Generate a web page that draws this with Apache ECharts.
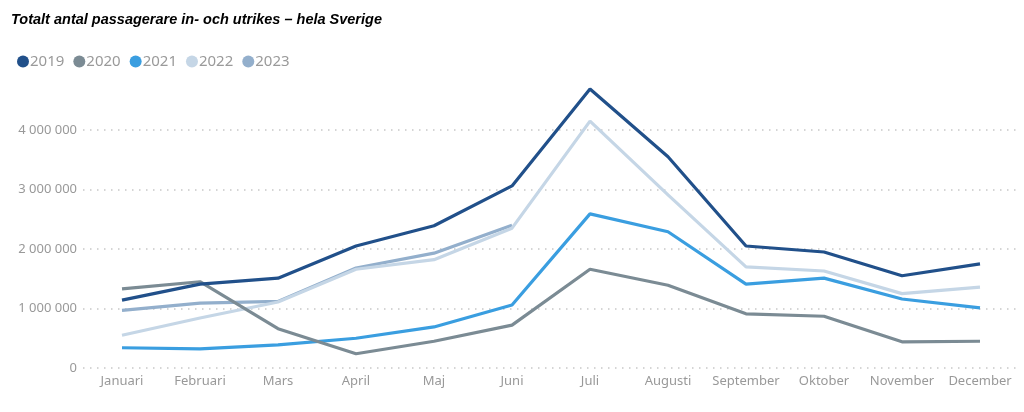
<!DOCTYPE html>
<html>
<head>
<meta charset="utf-8">
<script src="https://cdn.jsdelivr.net/npm/echarts@6/dist/echarts.min.js"></script>
<style>
html,body{margin:0;padding:0;background:#fff;}
#c{width:1024px;height:412px;}
</style>
</head>
<body>
<div id="c"></div>
<script>
const titleText = 'Totalt antal passagerare in- och utrikes – hela Sverige';
const months = ['Januari','Februari','Mars','April','Maj','Juni','Juli','Augusti','September','Oktober','November','December'];
const years = ['2019','2020','2021','2022','2023'];
const v2019 = [1140000,1410000,1510000,2050000,2390000,3060000,4690000,3550000,2050000,1950000,1550000,1750000];
const v2020 = [1330000,1450000,660000,240000,450000,720000,1660000,1390000,910000,870000,440000,450000];
const v2021 = [340000,320000,390000,500000,690000,1060000,2590000,2290000,1410000,1510000,1160000,1010000];
const v2022 = [550000,840000,1110000,1660000,1820000,2350000,4150000,2910000,1700000,1630000,1250000,1360000];
const v2023 = [970000,1090000,1120000,1680000,1930000,2400000,null,null,null,null,null,null];
const colors = ['#21508a','#7b8b94','#3a9ee0','#c5d6e6','#93afcc'];
const seriesData = [v2019,v2020,v2021,v2022,v2023];

const chart = echarts.init(document.getElementById('c'), null, {renderer:'canvas'});
const fmt = v => String(v).replace(/\B(?=(\d{3})+(?!\d))/g, ' ');
chart.setOption({
  animation:false,
  color: colors,
  title:{
    text:titleText, left:6, top:7,
    textStyle:{fontFamily:'Liberation Sans', fontSize:14.5, fontWeight:'bold', fontStyle:'italic', color:'#000'}
  },
  legend:{
    data:years, left:12, top:49, icon:'circle', itemWidth:12, itemHeight:12, itemGap:9,
    textStyle:{fontFamily:'Noto Sans', fontSize:15, color:'#9a9a9a', padding:[0,0,0,-4]}
  },
  grid:{left:83, right:5, top:70.5, bottom:44, containLabel:false},
  xAxis:{
    type:'category', data:months, boundaryGap:true,
    axisLine:{show:false}, axisTick:{show:false},
    axisLabel:{fontFamily:'Noto Sans', fontSize:13, color:'#999', margin:7, interval:0}
  },
  yAxis:{
    type:'value', min:0, max:5000000, interval:1000000,
    axisLine:{show:false}, axisTick:{show:false},
    axisLabel:{fontFamily:'Noto Sans', fontSize:13, color:'#999', margin:6, showMaxLabel:false, formatter:fmt},
    splitLine:{show:true, showMaxLine:false, lineStyle:{color:'#c8c8c8', type:[1.5,5.5], width:1.5}}
  },
  series: years.map((y,i)=>({
    name:y, type:'line', data:seriesData[i], showSymbol:false, symbol:'none',
    lineStyle:{width:3.2, color:colors[i]}, itemStyle:{color:colors[i]},
    z: 10-i
  }))
});
</script>
</body>
</html>
